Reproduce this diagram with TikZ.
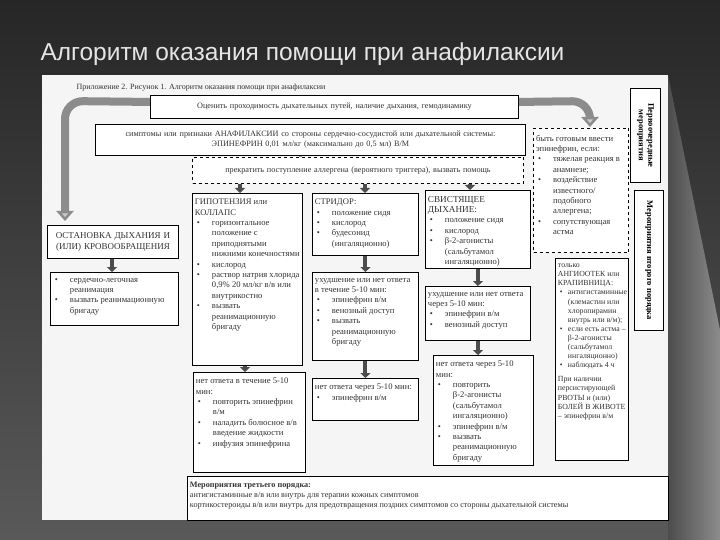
\documentclass[tikz,border=0pt]{standalone}
\usepackage{fontspec}
\setmainfont{Liberation Serif}
\newfontfamily\titlefont{Liberation Sans}
\usetikzlibrary{arrows.meta,calc}
\newlength\bli \setlength\bli{17pt}
\newcommand{\bl}[1]{\par\noindent\hangindent=\bli\hangafter=1\makebox[\bli][l]{\hspace{2pt}•}#1}
\newcommand{\tb}[3]{\parbox[t][#2pt][t]{#1pt}{\raggedright #3}}
\tikzset{
 bx/.style={draw=black,line width=0.9pt,fill=white,anchor=north west,align=left,inner sep=2.5pt,
   font=\fontsize{8.6}{10.4}\selectfont,text=black!80},
 dbx/.style={bx,dashed,line width=1pt},
 sar/.style={line width=4pt,draw=black!70,-{Triangle[length=5pt,width=10pt]}},
 bar/.style={line width=8pt,draw=black!45,rounded corners=18pt,-{Triangle[length=10pt,width=17pt,fill=black!20]}},
}
\begin{document}
\begin{tikzpicture}[x=1pt,y=-1pt]
\useasboundingbox (0,0) rectangle (720,540);
\shade[top color=black!85,bottom color=black!65] (0,0) rectangle (720,540);
\shade[left color=black!70,right color=black!45] (668,75) -- (720,330) -- (720,540) -- (668,540) -- cycle;
\node[anchor=west,text=white!90!black,font=\titlefont\fontsize{24.5}{27}\selectfont] (title) at (37,54) {Алгоритм оказания помощи при анафилаксии};
\fill[white!96!black] (42,75) rectangle (668,520);
\node[anchor=west,font=\fontsize{8}{9}\selectfont,text=black!80] (cap) at (73,88) {Приложение 2. Рисунок 1. Алгоритм оказания помощи при анафилаксии};
% top boxes
\node[bx,text width=363pt,minimum height=23pt,align=center,font=\fontsize{8.2}{10}\selectfont] (eval) at (150,95) {Оценить проходимость дыхательных путей, наличие дыхания, гемодинамику};
\node[bx,text width=425pt,minimum height=31pt,align=center,font=\fontsize{8.2}{10}\selectfont] (sym) at (95,124) {симптомы или признаки АНАФИЛАКСИИ со стороны сердечно-сосудистой или дыхательной системы:\\ ЭПИНЕФРИН 0,01 мл/кг (максимально до 0,5 мл) В/М};
\node[dbx,text width=326pt,minimum height=26pt,align=center,font=\fontsize{8.2}{10}\selectfont] (stop) at (192,157) {прекратить поступление аллергена (вероятного триггера), вызвать помощь};
\node[dbx] (ready) at (533,128) {\tb{90}{119}{\vspace{4pt}быть готовым ввести эпинефрин, если:
\bl{тяжелая реакция в анамнезе;}\bl{воздействие известного/ подобного аллергена;}\bl{сопутствующая астма}}};
\node[bx,minimum width=30pt,minimum height=94pt,inner sep=0pt] (first) at (630,88) {};
\node[rotate=-90,align=center,font=\fontsize{8.5}{9.5}\selectfont\bfseries] at (first.center) {Первоочередные\\мероприятия};
\node[bx,minimum width=29pt,minimum height=140pt,inner sep=0pt] (second) at (634,190) {};
\node[rotate=-90,font=\fontsize{8.5}{9.5}\selectfont\bfseries] at (second.center) {Мероприятия второго порядка};
% left branch
\node[bx,text width=126pt,minimum height=33pt,align=center,font=\fontsize{9}{11}\selectfont] (arrest) at (47,225) {ОСТАНОВКА ДЫХАНИЯ И\\ (ИЛИ) КРОВООБРАЩЕНИЯ};
\node[bx] (cpr) at (50,272) {\tb{123}{48}{\vspace{3pt}\bl{сердечно-легочная реанимация}\bl{вызвать реанимационную бригаду}}};
% columns
\node[bx] (hyp) at (192,193) {\tb{105}{167}{\vspace{3pt}ГИПОТЕНЗИЯ или КОЛЛАПС\bl{горизонтальное положение с приподнятыми нижними конечностями}\bl{кислород}\bl{раствор натрия хлорида 0,9\% 20 мл/кг в/в или внутрикостно}\bl{вызвать реанимационную бригаду}}};
\node[bx] (str) at (312,193) {\tb{101}{57}{\vspace{3pt}СТРИДОР:\bl{положение сидя}\bl{кислород}\bl{будесонид (ингаляционно)}}};
\node[bx] (whz) at (425,190) {\tb{100}{73}{\vspace{3pt}{\fontsize{9.2}{10.5}\selectfont СВИСТЯЩЕЕ ДЫХАНИЕ:}\bl{положение сидя}\bl{кислород}\bl{β-2-агонисты (сальбутамол ингаляционно)}}};
\node[bx] (str2) at (312,272) {\tb{101}{83}{\vspace{3pt}ухудшение или нет ответа в течение 5-10 мин:\bl{эпинефрин в/м}\bl{венозный доступ}\bl{вызвать реанимационную бригаду}}};
\node[bx] (whz2) at (425,286) {\tb{100}{49}{\vspace{3pt}ухудшение или нет ответа через 5-10 мин:\bl{эпинефрин в/м}\bl{венозный доступ}}};
\node[bx] (hyp3) at (193,372) {\tb{107}{95}{\vspace{3pt}нет ответа в течение 5-10 мин:\bl{повторить эпинефрин в/м}\bl{наладить болюсное в/в введение жидкости}\bl{инфузия эпинефрина}}};
\node[bx] (str3) at (312,378) {\tb{101}{37}{\vspace{3pt}нет ответа через 5-10 мин:\bl{эпинефрин в/м}}};
\node[bx] (whz3) at (433,355) {\tb{95}{105}{\vspace{3pt}нет ответа через 5-10 мин:\bl{повторить β-2-агонисты (сальбутамол ингаляционно)}\bl{эпинефрин в/м}\bl{вызвать реанимационную бригаду}}};
\node[bx,font=\fontsize{7.8}{9.1}\selectfont] (ang) at (555,258) {\tb{68}{197}{\setlength\bli{10pt}\vspace{3pt}только\\ АНГИООТЕК или КРАПИВНИЦА:\bl{антигистаминные (клемастин или хлоропирамин внутрь или в/м);}\bl{если есть астма -- β-2-агонисты (сальбутамол ингаляционно)}\bl{наблюдать 4 ч}\par\vspace{5pt}\noindent При наличии персистирующей РВОТЫ и (или) БОЛЕЙ В ЖИВОТЕ -- эпинефрин в/м}};
\node[bx,font=\fontsize{8.2}{10}\selectfont] (third) at (187,476) {\tb{476}{39}{\vspace{3pt}\textbf{Мероприятия третьего порядка:}\\ антигистаминные в/в или внутрь для терапии кожных симптомов\\ кортикостероиды в/в или внутрь для предотвращения поздних симптомов со стороны дыхательной системы}};
% arrows
\draw[bar] ($(eval.west)+(0,-5)$) -- (65,101) -- (65,221);
\draw[bar] ($(eval.east)+(0,-5)$) -- (590,101) -- (590,127);
\draw[line width=3pt,draw=black!40] (sym.south -| 300,0) -- (stop.north -| 300,0);
\draw[line width=3pt,draw=black!40] (sym.south -| 490,0) -- (stop.north -| 490,0);
\draw[sar] (stop.south -| 240,0) -- (hyp.north -| 240,0);
\draw[sar] (stop.south -| 365,0) -- (str.north -| 365,0);
\draw[sar] (stop.south -| 470,0) -- (whz.north -| 470,0);
\draw[sar] (arrest.south -| 112,0) -- (cpr.north -| 112,0);
\draw[sar] (str.south) -- (str2.north);
\draw[sar] (whz.south) -- (whz.south |- whz2.north);
\draw[sar] (str2.south) -- (str3.north -| str2.south);
\draw[sar] (whz2.south -| 478,0) -- (whz3.north -| 478,0);
\draw[sar] (hyp.south -| 245,0) -- (hyp3.north -| 245,0);
\end{tikzpicture}
\end{document}
